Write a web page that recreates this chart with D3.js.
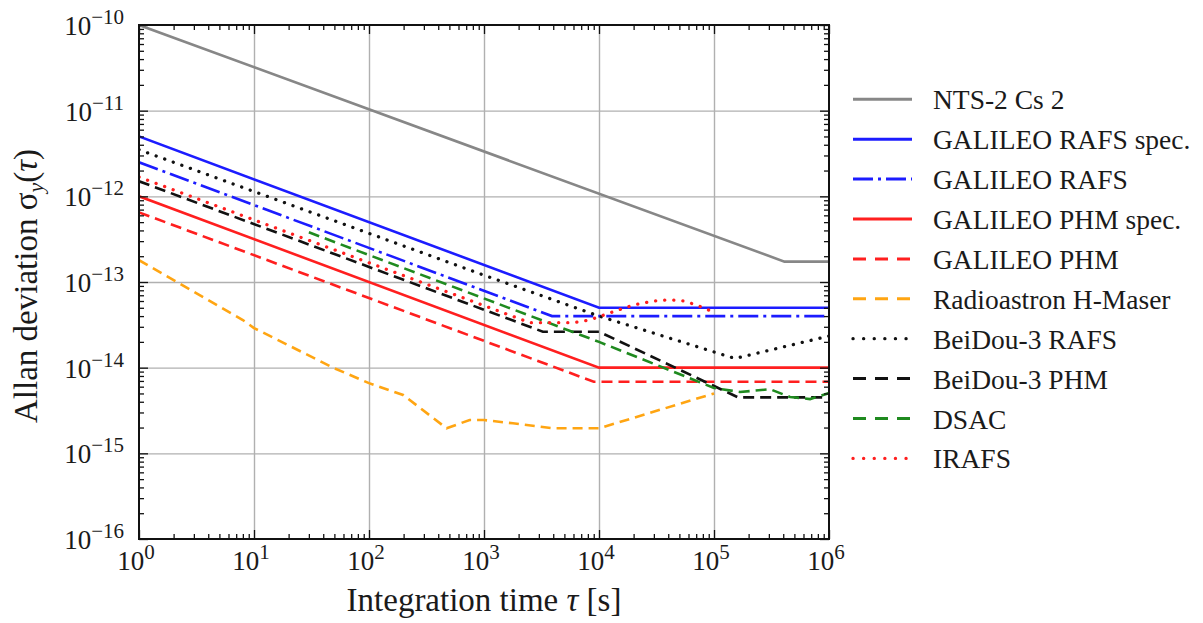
<!DOCTYPE html>
<html>
<head>
<meta charset="utf-8">
<script src="https://cdn.jsdelivr.net/npm/d3@7"></script>
<style>
  body { margin: 0; background: #fff; }
  text { font-family: "Liberation Serif", "Times New Roman", serif; fill: #1a1a1a; }
</style>
</head>
<body>
<div id="chart"></div>
<script>
// data: [tau (s), allan deviation]
var nts2Cs2 = [[1, 1e-10], [4.1e5, 1.73e-13], [1e6, 1.73e-13]]
var galileoRafsSpec = [[1, 5e-12], [1e4, 5e-14], [1e6, 5e-14]]
var galileoRafs = [[1, 2.5e-12], [3900, 4.0e-14], [1e6, 4.0e-14]]
var galileoPhmSpec = [[1, 1e-12], [1e4, 1e-14], [1e6, 1e-14]]
var galileoPhm = [[1, 6.5e-13], [9000, 6.85e-15], [1e6, 6.85e-15]]
var radioastron = [[1, 1.8e-13], [8, 3.6e-14], [10, 2.9e-14], [48.7, 1e-14], [100, 6.6e-15],
  [198, 4.8e-15], [473, 1.96e-15], [750, 2.45e-15], [1000, 2.45e-15], [1786, 2.24e-15],
  [3980, 1.96e-15], [1e4, 1.96e-15], [1e5, 5.0e-15]]
var beidouRafs = [[1, 3.5e-12], [1e3, 1.2e-13], [1e4, 4.0e-14], [1.52e5, 1.28e-14], [1e6, 2.34e-14]]
var beidouPhm = [[1, 1.5e-12], [3250, 2.63e-14], [1e4, 2.63e-14], [1.62e5, 4.5e-15], [1e6, 4.5e-15]]
var dsac = [[30, 3.8e-13], [1e4, 2.0e-14], [1e5, 5.8e-15], [1.68e5, 5.2e-15], [3.07e5, 5.6e-15],
  [4.58e5, 4.55e-15], [6.84e5, 4.3e-15], [1e6, 5.06e-15]]
var irafs = [[1, 1.68e-12], [2500, 3.35e-14], [6000, 3.35e-14], [8300, 3.6e-14], [1.4e4, 4.6e-14],
  [2e4, 5.4e-14], [3e4, 6.0e-14], [4e4, 6.2e-14], [5.5e4, 6.0e-14], [7e4, 5.4e-14], [9e4, 4.7e-14]]

var seriesNames = ["NTS-2 Cs 2", "GALILEO RAFS spec.", "GALILEO RAFS", "GALILEO PHM spec.",
  "GALILEO PHM", "Radioastron H-Maser", "BeiDou-3 RAFS", "BeiDou-3 PHM", "DSAC", "IRAFS"]
var seriesData = [nts2Cs2, galileoRafsSpec, galileoRafs, galileoPhmSpec, galileoPhm,
  radioastron, beidouRafs, beidouPhm, dsac, irafs]

var xExponents = [0, 1, 2, 3, 4, 5, 6]
var yExponents = [-16, -15, -14, -13, -12, -11, -10]

// styles
var colors = ["#878787", "#1c1cff", "#1c1cff", "#ff1f1f", "#ff1f1f", "#ffa512", "#111", "#111", "#1f8a1f", "#ff1f1f"]
var dashes = [null, null, "20,5,3,5", null, "11,6", "10,6", "0.1,9", "11,6", "11,6", "0.1,9"]

const W = 1203, H = 623
const pLeft = 139, pRight = 829, pTop = 25, pBottom = 539

const x = d3.scaleLog().domain([1, 1e6]).range([pLeft, pRight])
const y = d3.scaleLog().domain([1e-16, 1e-10]).range([pBottom, pTop])

const svg = d3.select("#chart").append("svg")
  .attr("width", W)
  .attr("height", H)

const xMajor = xExponents.map(k => Math.pow(10, k))
const yMajor = yExponents.map(k => Math.pow(10, k))
var xMinor = [], yMinor = []
xExponents.slice(0, -1).forEach(k => { for (var m = 2; m < 10; m++) xMinor.push(m * Math.pow(10, k)) })
yExponents.slice(0, -1).forEach(k => { for (var m = 2; m < 10; m++) yMinor.push(m * Math.pow(10, k)) })

// grid
svg.append("g")
  .attr("transform", `translate(0,${pBottom})`)
  .call(d3.axisBottom(x).tickValues(xMajor.slice(1, -1)).tickSize(-(pBottom - pTop)).tickFormat(""))
  .call(g => g.select(".domain").remove())
  .selectAll("line").attr("stroke", "#b0b0b0").attr("stroke-width", 1.4)

svg.append("g")
  .attr("transform", `translate(${pLeft},0)`)
  .call(d3.axisLeft(y).tickValues(yMajor.slice(1, -1)).tickSize(-(pRight - pLeft)).tickFormat(""))
  .call(g => g.select(".domain").remove())
  .selectAll("line").attr("stroke", "#b0b0b0").attr("stroke-width", 1.4)

// data lines
svg.append("clipPath").attr("id", "plotclip")
  .append("rect").attr("x", pLeft).attr("y", pTop).attr("width", pRight - pLeft).attr("height", pBottom - pTop)

const line = d3.line().x(d => x(d[0])).y(d => y(d[1]))

svg.append("g")
  .attr("clip-path", "url(#plotclip)")
  .selectAll("path")
  .data(seriesData)
  .join("path")
  .attr("d", line)
  .attr("fill", "none")
  .attr("stroke", (d, i) => colors[i])
  .attr("stroke-width", (d, i) => dashes[i] == "0.1,9" ? 3.3 : 2.6)
  .attr("stroke-linecap", (d, i) => dashes[i] == "0.1,9" ? "round" : "butt")
  .attr("stroke-dasharray", (d, i) => dashes[i])

// ticks on all four sides, pointing inwards
var addTicks = function (axis, tx, ty) {
  svg.append("g")
    .attr("transform", `translate(${tx},${ty})`)
    .call(axis)
    .call(g => g.select(".domain").remove())
    .selectAll("line").attr("stroke", "#111").attr("stroke-width", 1.3)
}
addTicks(d3.axisBottom(x).tickValues(xMajor).tickSize(-9).tickFormat(""), 0, pBottom)
addTicks(d3.axisBottom(x).tickValues(xMinor).tickSize(-5).tickFormat(""), 0, pBottom)
addTicks(d3.axisTop(x).tickValues(xMajor).tickSize(-9).tickFormat(""), 0, pTop)
addTicks(d3.axisTop(x).tickValues(xMinor).tickSize(-5).tickFormat(""), 0, pTop)
addTicks(d3.axisLeft(y).tickValues(yMajor).tickSize(-9).tickFormat(""), pLeft, 0)
addTicks(d3.axisLeft(y).tickValues(yMinor).tickSize(-5).tickFormat(""), pLeft, 0)
addTicks(d3.axisRight(y).tickValues(yMajor).tickSize(-9).tickFormat(""), pRight, 0)
addTicks(d3.axisRight(y).tickValues(yMinor).tickSize(-5).tickFormat(""), pRight, 0)

// frame
svg.append("rect")
  .attr("x", pLeft).attr("y", pTop)
  .attr("width", pRight - pLeft).attr("height", pBottom - pTop)
  .attr("fill", "none").attr("stroke", "#111").attr("stroke-width", 2)

// tick labels: 10 with superscript exponent
var powerLabel = function (sel, exp) {
  sel.append("tspan").text("10")
  sel.append("tspan").attr("font-size", 21).attr("dy", -11)
    .text(exp < 0 ? "\u2212" + (-exp) : "" + exp)
}

xExponents.forEach(k => {
  var t = svg.append("text")
    .attr("x", x(Math.pow(10, k)) - 3)
    .attr("y", pBottom + 31)
    .attr("text-anchor", "middle")
    .attr("font-size", 27)
  powerLabel(t, k)
})

yExponents.forEach(k => {
  var t = svg.append("text")
    .attr("x", pLeft - 15)
    .attr("y", y(Math.pow(10, k)) + 10)
    .attr("text-anchor", "end")
    .attr("font-size", 27)
  powerLabel(t, k)
})

// axis titles
var xt = svg.append("text")
  .attr("x", (pLeft + pRight) / 2)
  .attr("y", 611)
  .attr("text-anchor", "middle")
  .attr("font-size", 33)
xt.append("tspan").text("Integration time ")
xt.append("tspan").attr("font-style", "italic").text("\u03c4")
xt.append("tspan").text(" [s]")

var yt = svg.append("text")
  .attr("transform", `translate(37,${(pTop + pBottom) / 2 + 4}) rotate(-90)`)
  .attr("text-anchor", "middle")
  .attr("font-size", 33)
yt.append("tspan").text("Allan deviation \u03c3")
yt.append("tspan").attr("font-style", "italic").attr("font-size", 22).attr("dy", 6).text("y")
yt.append("tspan").attr("dy", -6).text("(")
yt.append("tspan").attr("font-style", "italic").text("\u03c4")
yt.append("tspan").text(")")

// legend
const legend = svg.append("g")
  .selectAll("g")
  .data(seriesNames)
  .join("g")
  .attr("transform", (d, i) => `translate(853,${99.3 + i * 39.9})`)

legend.append("line")
  .attr("x1", 0).attr("x2", 59)
  .attr("stroke", (d, i) => colors[i])
  .attr("stroke-width", (d, i) => dashes[i] == "0.1,9" ? 3.3 : 3)
  .attr("stroke-linecap", (d, i) => dashes[i] == "0.1,9" ? "round" : "butt")
  .attr("stroke-dasharray", (d, i) => dashes[i] == "0.1,9" ? "0.1,10.5" : dashes[i] == "11,6" || dashes[i] == "10,6" ? "13,9" : dashes[i])

legend.append("text")
  .attr("x", 80)
  .attr("y", 10)
  .attr("font-size", 27.5)
  .text(d => d)
</script>
</body>
</html>
